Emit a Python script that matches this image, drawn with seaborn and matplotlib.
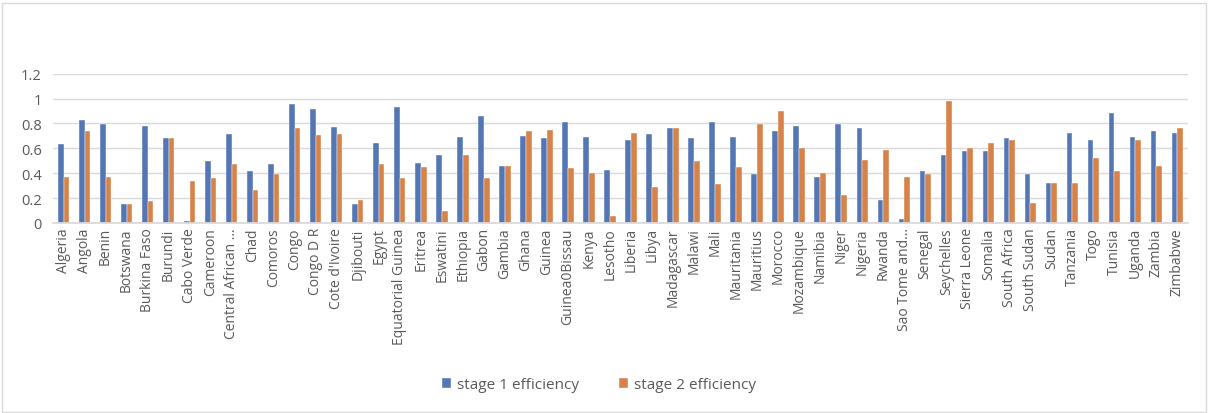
import numpy as np
import pandas as pd
import matplotlib
matplotlib.use("Agg")
import matplotlib.pyplot as plt
import seaborn as sns

countries = ["Algeria", "Angola", "Benin", "Botswana", "Burkina Faso", "Burundi",
             "Cabo Verde", "Cameroon", "Central African ...", "Chad", "Comoros",
             "Congo", "Congo D R", "Cote d'Ivoire", "Djibouti", "Egypt",
             "Equatorial Guinea", "Eritrea", "Eswatini", "Ethiopia", "Gabon",
             "Gambia", "Ghana", "Guinea", "Guinea0Bissau", "Kenya", "Lesotho",
             "Liberia", "Libya", "Madagascar", "Malawi", "Mali", "Mauritania",
             "Mauritius", "Morocco", "Mozambique", "Namibia", "Niger", "Nigeria",
             "Rwanda", "Sao Tome and...", "Senegal", "Seychelles", "Sierra Leone",
             "Somalia", "South Africa", "South Sudan", "Sudan", "Tanzania", "Togo",
             "Tunisia", "Uganda", "Zambia", "Zimbabwe"]

stage1 = [0.635, 0.825, 0.795, 0.15, 0.782, 0.68, 0.013, 0.495, 0.712, 0.417, 0.473,
          0.955, 0.92, 0.77, 0.15, 0.645, 0.93, 0.484, 0.55, 0.69, 0.862,
          0.46, 0.7, 0.68, 0.815, 0.69, 0.425, 0.666, 0.712, 0.76, 0.68,
          0.815, 0.69, 0.393, 0.736, 0.782, 0.369, 0.795, 0.76, 0.184, 0.035,
          0.415, 0.55, 0.575, 0.575, 0.68, 0.393, 0.323, 0.725, 0.669, 0.886,
          0.69, 0.736, 0.725]

stage2 = [0.369, 0.738, 0.369, 0.15, 0.176, 0.68, 0.337, 0.358, 0.473, 0.267, 0.393,
          0.76, 0.704, 0.715, 0.184, 0.471, 0.358, 0.449, 0.093, 0.55, 0.358,
          0.46, 0.738, 0.747, 0.439, 0.404, 0.06, 0.725, 0.289, 0.76, 0.495,
          0.313, 0.449, 0.795, 0.899, 0.599, 0.404, 0.222, 0.506, 0.589, 0.369,
          0.393, 0.977, 0.599, 0.645, 0.669, 0.163, 0.323, 0.323, 0.519, 0.415,
          0.669, 0.46, 0.76]

series = ["stage 1 efficiency", "stage 2 efficiency"]

df = pd.DataFrame({
    "country": countries * 2,
    "value": stage1 + stage2,
    "series": [series[0]] * len(countries) + [series[1]] * len(countries),
})

sns.set_theme(style="white")
plt.rcParams["font.family"] = ["Open Sans", "DejaVu Sans"]
grey = "#595959"

fig = plt.figure(figsize=(12.08, 4.14), dpi=100)
ax = fig.add_axes([0.0439, 0.459, 0.9395, 0.3606])

sns.barplot(data=df, x="country", y="value", hue="series",
            palette=["#4472C4", "#ED7D31"], width=0.54, ax=ax,
            edgecolor="white", linewidth=0.3, legend=True)

ax.set_ylim(0, 1.2)
ax.set_xlim(-0.5, len(countries) - 0.5)
ax.set_yticks(np.arange(0, 1.21, 0.2))
ax.set_yticklabels(["0", "0.2", "0.4", "0.6", "0.8", "1", "1.2"])
ax.yaxis.grid(True, color="#d9d9d9", linewidth=1)
ax.set_axisbelow(True)
for s in ["top", "right", "left"]:
    ax.spines[s].set_visible(False)
ax.spines["bottom"].set_color("#d9d9d9")
ax.set_xlabel("")
ax.set_ylabel("")
ax.tick_params(axis="y", labelsize=10.5, labelcolor=grey, length=0, pad=8)
ax.tick_params(axis="x", labelsize=10, labelcolor=grey, length=0, pad=3,
               labelrotation=90)

handles, labels = ax.get_legend_handles_labels()
ax.get_legend().remove()
fig.legend(handles, labels, loc="center", bbox_to_anchor=(0.496, 0.068), ncol=2,
           frameon=False, fontsize=11, labelcolor=grey, handlelength=0.6,
           handleheight=0.6, handletextpad=0.4, columnspacing=2.6)

fig.patches.append(plt.Rectangle((0.002, 0.002), 0.996, 0.988, transform=fig.transFigure,
                                 fill=False, edgecolor="#d9d9d9", linewidth=1))

fig.savefig("out.png", dpi=100, facecolor="white")
